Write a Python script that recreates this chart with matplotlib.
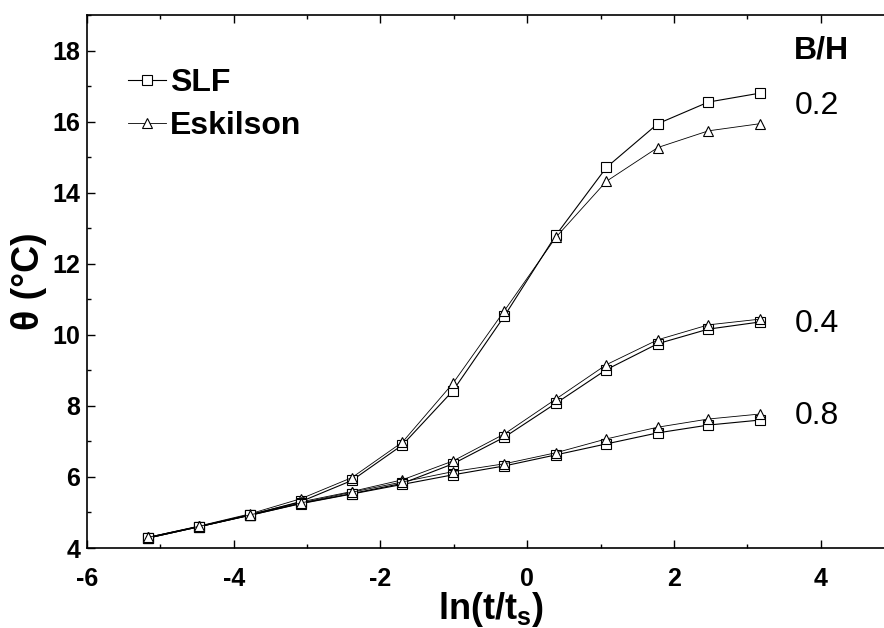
import matplotlib
matplotlib.use('Agg')
import matplotlib.pyplot as plt
from matplotlib.ticker import MultipleLocator

plt.rcParams['font.family'] = ['Liberation Sans', 'DejaVu Sans']
plt.rcParams['mathtext.fontset'] = 'custom'
plt.rcParams['mathtext.rm'] = 'Liberation Sans'
plt.rcParams['mathtext.bf'] = 'Liberation Sans:bold'
plt.rcParams['axes.unicode_minus'] = False

# ln(t/ts) sample points
ln_t = [-5.17, -4.47, -3.78, -3.08, -2.39, -1.70, -1.01, -0.31, 0.39, 1.08, 1.78, 2.47, 3.17]

# theta (°C) for each B/H ratio
slf_02 = [4.28, 4.60, 4.93, 5.31, 5.90, 6.90, 8.43, 10.53, 12.80, 14.71, 15.94, 16.55, 16.80]
esk_02 = [4.30, 4.62, 4.96, 5.39, 5.98, 6.98, 8.64, 10.68, 12.74, 14.32, 15.27, 15.74, 15.94]
slf_04 = [4.28, 4.60, 4.92, 5.26, 5.53, 5.82, 6.37, 7.12, 8.07, 9.02, 9.75, 10.16, 10.36]
esk_04 = [4.30, 4.61, 4.94, 5.30, 5.59, 5.92, 6.45, 7.21, 8.19, 9.16, 9.86, 10.28, 10.44]
slf_08 = [4.28, 4.60, 4.92, 5.25, 5.52, 5.79, 6.06, 6.31, 6.62, 6.93, 7.24, 7.46, 7.60]
esk_08 = [4.30, 4.61, 4.93, 5.27, 5.57, 5.86, 6.15, 6.37, 6.68, 7.07, 7.40, 7.63, 7.77]

ratio_labels = ['0.2', '0.4', '0.8']
ratio_label_y = [16.44, 10.30, 7.71]

fig = plt.figure(figsize=(8.84, 6.28), dpi=100)
ax = fig.add_axes([87 / 884, 80 / 628, 807 / 884, 533 / 628])

sq = dict(color='black', lw=0.8, marker='s', ms=6.5, mfc='white', mec='black', mew=0.8)
tri = dict(color='black', lw=0.6, marker='^', ms=6.5, mfc='white', mec='black', mew=0.8)

ax.plot(ln_t, slf_02, label='SLF', **sq)
ax.plot(ln_t, esk_02, label='Eskilson', **tri)
ax.plot(ln_t, slf_04, **sq)
ax.plot(ln_t, esk_04, **tri)
ax.plot(ln_t, slf_08, **sq)
ax.plot(ln_t, esk_08, **tri)

ax.text(3.63, 18.0, 'B/H', fontsize=23, fontweight='bold', va='center', ha='left')
for lab, yv in zip(ratio_labels, ratio_label_y):
    ax.text(3.65, yv, lab, fontsize=23, va='center', ha='left')

ax.set_xlim(-6, 5)
ax.set_ylim(4, 19)
ax.xaxis.set_major_locator(MultipleLocator(2))
ax.xaxis.set_minor_locator(MultipleLocator(1))
ax.yaxis.set_major_locator(MultipleLocator(2))
ax.yaxis.set_minor_locator(MultipleLocator(1))
ax.set_yticks([4, 6, 8, 10, 12, 14, 16, 18])

ax.tick_params(which='both', direction='in', top=True, right=True, width=1)
ax.tick_params(which='major', length=5.5)
ax.tick_params(which='minor', length=3)
ax.tick_params(axis='x', pad=14, labelsize=18)
ax.tick_params(axis='y', pad=5, labelsize=18)
for t in ax.get_xticklabels() + ax.get_yticklabels():
    t.set_fontweight('bold')
for s in ax.spines.values():
    s.set_linewidth(1.2)

ax.set_xlabel(r'ln(t/t$_{\mathbf{s}}$)', fontsize=26, fontweight='bold', labelpad=-1)
ax.set_ylabel('θ (°C)', fontsize=27, fontweight='bold', labelpad=4)

ax.legend(loc='upper left', bbox_to_anchor=(0.035, 0.925), frameon=False,
          prop={'size': 23, 'weight': 'bold'}, handlelength=1.2,
          handletextpad=0.1, labelspacing=0.42, borderaxespad=0)

fig.savefig('out.png', dpi=100)
